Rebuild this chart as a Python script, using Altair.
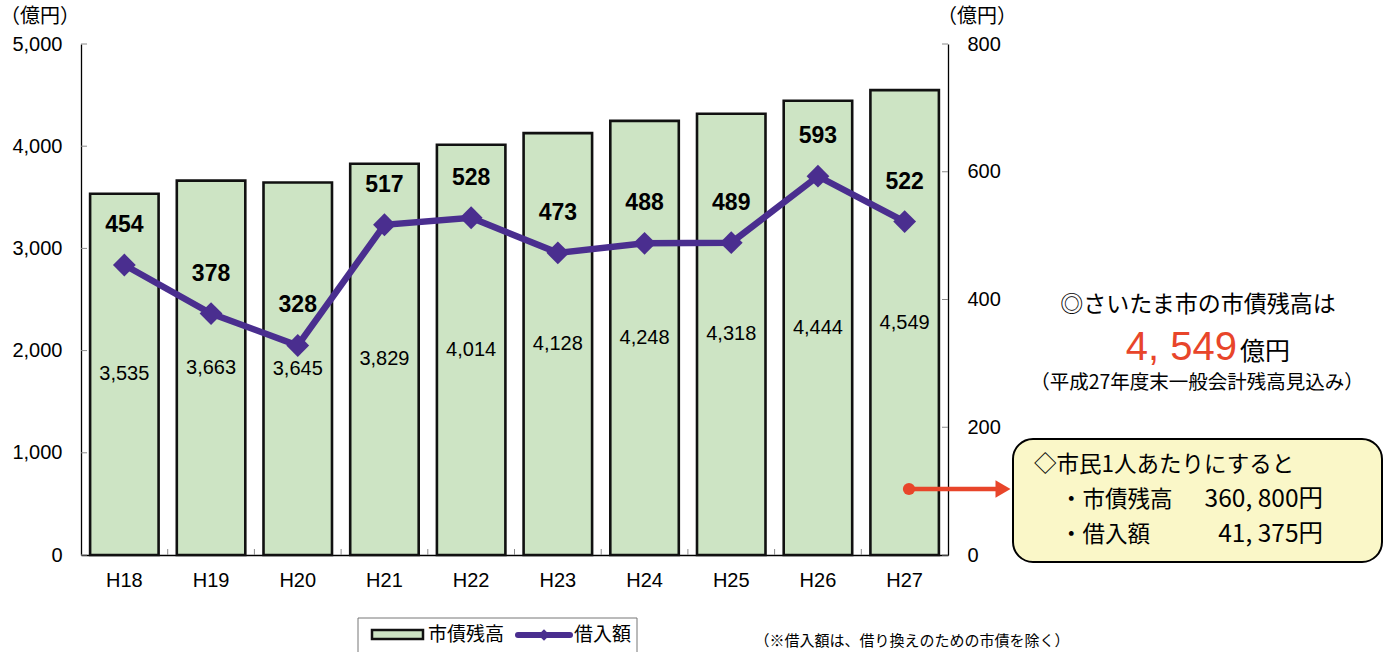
import altair as alt
import pandas as pd

# --- data -------------------------------------------------------------
years = ["H18", "H19", "H20", "H21", "H22", "H23", "H24", "H25", "H26", "H27"]
debt = [3535, 3663, 3645, 3829, 4014, 4128, 4248, 4318, 4444, 4549]      # 市債残高 (億円)
borrow = [454, 378, 328, 517, 528, 473, 488, 489, 593, 522]              # 借入額 (億円)
debt_ticks = [0, 1000, 2000, 3000, 4000, 5000]
borrow_ticks = [0, 200, 400, 600, 800]

unit_label = "（億円）"
series_names = ["市債残高", "借入額"]
headline = "◎さいたま市の市債残高は"
headline_unit = "億円"
headline_note = "（平成27年度末一般会計残高見込み）"
per_capita_title = "◇市民1人あたりにすると"
per_capita_items = ["・市債残高", "・借入額"]
per_capita_values = ["360, 800円", "41, 375円"]
footnote = "（※借入額は、借り換えのための市債を除く）"

# --- styling ----------------------------------------------------------
W, H = 867, 511
NUM = "Liberation Sans, Arial, sans-serif"
JP = "Noto Sans CJK JP, sans-serif"
BAR_FILL = "#CDE4C4"
LINE_COL = "#4A2E8F"
RED = "#E8452A"
TICK_COL = "#8a8a8a"

df = pd.DataFrame({"year": years, "debt": debt, "borrow": borrow})
df["mid"] = df["debt"] / 2

x_enc = alt.X(
    "year:N", sort=years, title=None,
    scale=alt.Scale(paddingInner=0.21, paddingOuter=0.105),
    axis=alt.Axis(labelAngle=0, labelFont=NUM, labelFontSize=20, labelColor="black",
                  tickSize=0, labelPadding=15, domainColor="black", domainWidth=1.3),
)
y_left_scale = alt.Scale(domain=[0, 5000])
y_right_scale = alt.Scale(domain=[0, 800])

base = alt.Chart(df)

bars = base.mark_bar(fill=BAR_FILL, stroke="#111111", strokeWidth=2.6).encode(
    x=x_enc,
    y=alt.Y("debt:Q", scale=y_left_scale, title=None,
            axis=alt.Axis(values=debt_ticks, format=",d", tickSize=0, labelPadding=19,
                          labelFont=NUM, labelFontSize=20, labelColor="black", grid=False,
                          domainColor="black", domainWidth=1.3)),
)
bar_labels = base.mark_text(font=NUM, fontSize=20, color="black", baseline="middle").encode(
    x=alt.X("year:N", sort=years),
    y=alt.Y("mid:Q", scale=y_left_scale),
    text=alt.Text("debt:Q", format=",d"),
)
left_ticks = alt.Chart(pd.DataFrame({"v": debt_ticks})).mark_rule(color=TICK_COL, strokeWidth=1).encode(
    y=alt.Y("v:Q", scale=y_left_scale),
    x=alt.value(0), x2=alt.value(6),
)
x_ticks = alt.Chart(pd.DataFrame({"year": years[1:]})).mark_rule(
    color=TICK_COL, strokeWidth=1, xOffset=-9.1
).encode(
    x=alt.X("year:N", sort=years, bandPosition=0),
    y=alt.value(H - 6), y2=alt.value(H),
)
left_group = alt.layer(bars, bar_labels, left_ticks, x_ticks)

line = base.mark_line(color=LINE_COL, strokeWidth=6.5).encode(
    x=alt.X("year:N", sort=years),
    y=alt.Y("borrow:Q", scale=y_right_scale, title=None,
            axis=alt.Axis(orient="right", values=borrow_ticks, format="d", tickSize=0,
                          labelPadding=19, labelFont=NUM, labelFontSize=20, labelColor="black",
                          grid=False, domainColor="black", domainWidth=1.3)),
)
points = base.mark_point(shape="diamond", filled=True, size=520, color=LINE_COL, opacity=1).encode(
    x=alt.X("year:N", sort=years),
    y=alt.Y("borrow:Q", scale=y_right_scale),
)
line_labels = base.mark_text(font=NUM, fontSize=23, fontWeight="bold", color="black",
                             baseline="middle", dy=-40).encode(
    x=alt.X("year:N", sort=years),
    y=alt.Y("borrow:Q", scale=y_right_scale),
    text="borrow:Q",
)
right_ticks = alt.Chart(pd.DataFrame({"v": borrow_ticks})).mark_rule(color=TICK_COL, strokeWidth=1).encode(
    y=alt.Y("v:Q", scale=y_right_scale),
    x=alt.value(W - 6), x2=alt.value(W),
)
right_group = alt.layer(line, points, line_labels, right_ticks)


def text_at(t, x, y, size, align="left", baseline="middle", color="black", font=JP, weight="normal"):
    return alt.Chart(pd.DataFrame({"t": [t]})).mark_text(
        align=align, baseline=baseline, fontSize=size, font=font, color=color, fontWeight=weight
    ).encode(x=alt.value(x), y=alt.value(y), text="t:N")


one = pd.DataFrame({"k": [0]})

# axis unit captions
unit_left = text_at(unit_label, -41, -27, 20, align="center")
unit_right = text_at(unit_label, 896, -27, 20, align="center")

# summary on the right
head = text_at(headline, 1117, 261, 23, align="center")
head_value = text_at(f"{debt[-1]:,}".replace(",", ", "), 1156, 316, 40, align="right",
                     baseline="alphabetic", color=RED, font=NUM)
head_unit = text_at(headline_unit, 1159, 316, 25, baseline="alphabetic")
head_note = text_at(headline_note, 1116, 339, 19.5, align="center")

box = alt.Chart(one).mark_rect(cornerRadius=20, fill="#FAF7C8", stroke="black", strokeWidth=2).encode(
    x=alt.value(932), x2=alt.value(1301), y=alt.value(395), y2=alt.value(518)
)
pc_title = text_at(per_capita_title, 953, 421, 22.5)
pc_item1 = text_at(per_capita_items[0], 979, 456, 22.5)
pc_val1 = text_at(per_capita_values[0], 1242, 456, 24.5, align="right")
pc_item2 = text_at(per_capita_items[1], 979, 491, 22.5)
pc_val2 = text_at(per_capita_values[1], 1242, 491, 24.5, align="right")

arrow_line = alt.Chart(one).mark_rule(color=RED, strokeWidth=4.5).encode(
    x=alt.value(828), x2=alt.value(919), y=alt.value(445)
)
arrow_dot = alt.Chart(one).mark_point(shape="circle", filled=True, size=150, color=RED, opacity=1).encode(
    x=alt.value(828), y=alt.value(445)
)
arrow_head = alt.Chart(one).mark_point(shape="triangle-right", filled=True, size=300, color=RED, opacity=1).encode(
    x=alt.value(922), y=alt.value(445)
)

# legend box
legend_box = alt.Chart(one).mark_rect(fill="white", stroke="#777777", strokeWidth=1).encode(
    x=alt.value(277), x2=alt.value(556), y=alt.value(574), y2=alt.value(625)
)
legend_bar = alt.Chart(one).mark_rect(fill=BAR_FILL, stroke="#111111", strokeWidth=2.5).encode(
    x=alt.value(291), x2=alt.value(342), y=alt.value(586), y2=alt.value(595)
)
legend_bar_text = text_at(series_names[0], 347, 591, 19)
legend_line = alt.Chart(one).mark_rule(color=LINE_COL, strokeWidth=6, strokeCap="round").encode(
    x=alt.value(437), x2=alt.value(489), y=alt.value(591)
)
legend_point = alt.Chart(one).mark_point(shape="diamond", filled=True, size=130, color=LINE_COL, opacity=1).encode(
    x=alt.value(463), y=alt.value(591)
)
legend_line_text = text_at(series_names[1], 493, 591, 19)
note = text_at(footnote, 831, 597, 15, align="center")

chart = alt.layer(
    left_group, right_group,
    unit_left, unit_right,
    head, head_value, head_unit, head_note,
    box, pc_title, pc_item1, pc_val1, pc_item2, pc_val2,
    arrow_line, arrow_dot, arrow_head,
    legend_box, legend_bar, legend_bar_text, legend_line, legend_point, legend_line_text,
    note,
).resolve_scale(y="independent").properties(
    width=W, height=H,
    padding={"left": 81, "top": 44, "right": 445, "bottom": 97},
    autosize=alt.AutoSizeParams(type="none"),
    background="white",
).configure_view(stroke=None)

chart.save("out.html", embed_options={"renderer": "svg", "actions": False})
